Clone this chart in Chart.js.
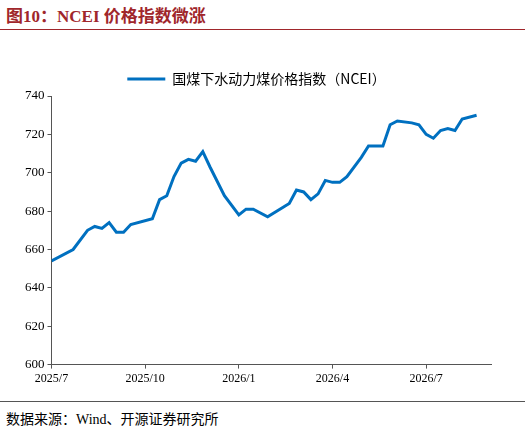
<!DOCTYPE html><html><head><meta charset="utf-8">
<script src="https://cdn.jsdelivr.net/npm/chart.js@4"></script>
<style>
body{margin:0;width:525px;height:437px;background:#fff;font-family:"Noto Sans CJK SC";position:relative;overflow:hidden}
#t{position:absolute;left:6px;top:2px;font-size:17px;font-weight:bold;color:#a0262b;font-family:"Liberation Serif","Noto Sans CJK SC"}
#l1{position:absolute;left:0;top:29px;width:525px;height:1px;background:#a0262b}
#l2{position:absolute;left:0;top:401px;width:525px;height:1px;background:#555}
#s{position:absolute;left:6px;top:408px;font-size:14px;color:#000;font-family:"Liberation Serif","Noto Sans CJK SC"}
#w{position:absolute;left:0;top:52px;width:525px;height:337px}
</style></head><body>
<div id="t">图10：NCEI 价格指数微涨</div><div id="l1"></div>
<div id="w"><canvas id="c"></canvas></div>
<div id="l2"></div><div id="s">数据来源：Wind、开源证券研究所</div>
<script>
const weeks=[0,3,5,6,7,8,9,10,11,14,15,16,17,18,19,20,21,22,24,26,27,28,30,33,34,35,36,37,38,39,40,41,43,44,46,47,48,50,51,52,53,54,55,56,57,59];
const values=[654,660,670,672,671,674,669,669,673,676,686,688,698,705,707,706,711,703,688,678,681,681,677,684,691,690,686,689,696,695,695,698,708,714,714,725,727,726,725,720,718,722,723,722,728,730];
const tickLabels={0:'2025/7',13:'2025/10',26:'2026/1',39:'2026/4',52:'2026/7'};
const seriesName='国煤下水动力煤价格指数（NCEI）';
new Chart(document.getElementById('c'),{type:'line',
data:{datasets:[{label:seriesName,data:weeks.map((w,i)=>({x:w,y:values[i]})),borderColor:'#0070c0',backgroundColor:'#0070c0',borderWidth:3,pointRadius:0,tension:0}]},
options:{responsive:true,maintainAspectRatio:false,animation:false,
layout:{padding:{left:22,right:34,top:0,bottom:0}},
plugins:{legend:{labels:{boxWidth:38,boxHeight:0,color:'#000',font:{size:14,family:'Noto Sans CJK SC'},padding:20}},tooltip:{enabled:false}},
scales:{x:{type:'linear',min:0,max:61,afterBuildTicks:a=>{a.ticks=[0,13,26,39,52].map(v=>({value:v}))},
ticks:{callback:v=>tickLabels[v],color:'#000',font:{size:12,family:'Liberation Serif'},maxRotation:0},
grid:{display:true,drawOnChartArea:false,tickLength:4,color:'#555'},border:{color:'#555'}},
y:{min:600,max:740,ticks:{stepSize:20,color:'#000',font:{size:13,family:'Liberation Serif'}},grid:{display:true,drawOnChartArea:false,tickLength:4,color:'#555'},border:{color:'#555'}}}}});
</script></body></html>
